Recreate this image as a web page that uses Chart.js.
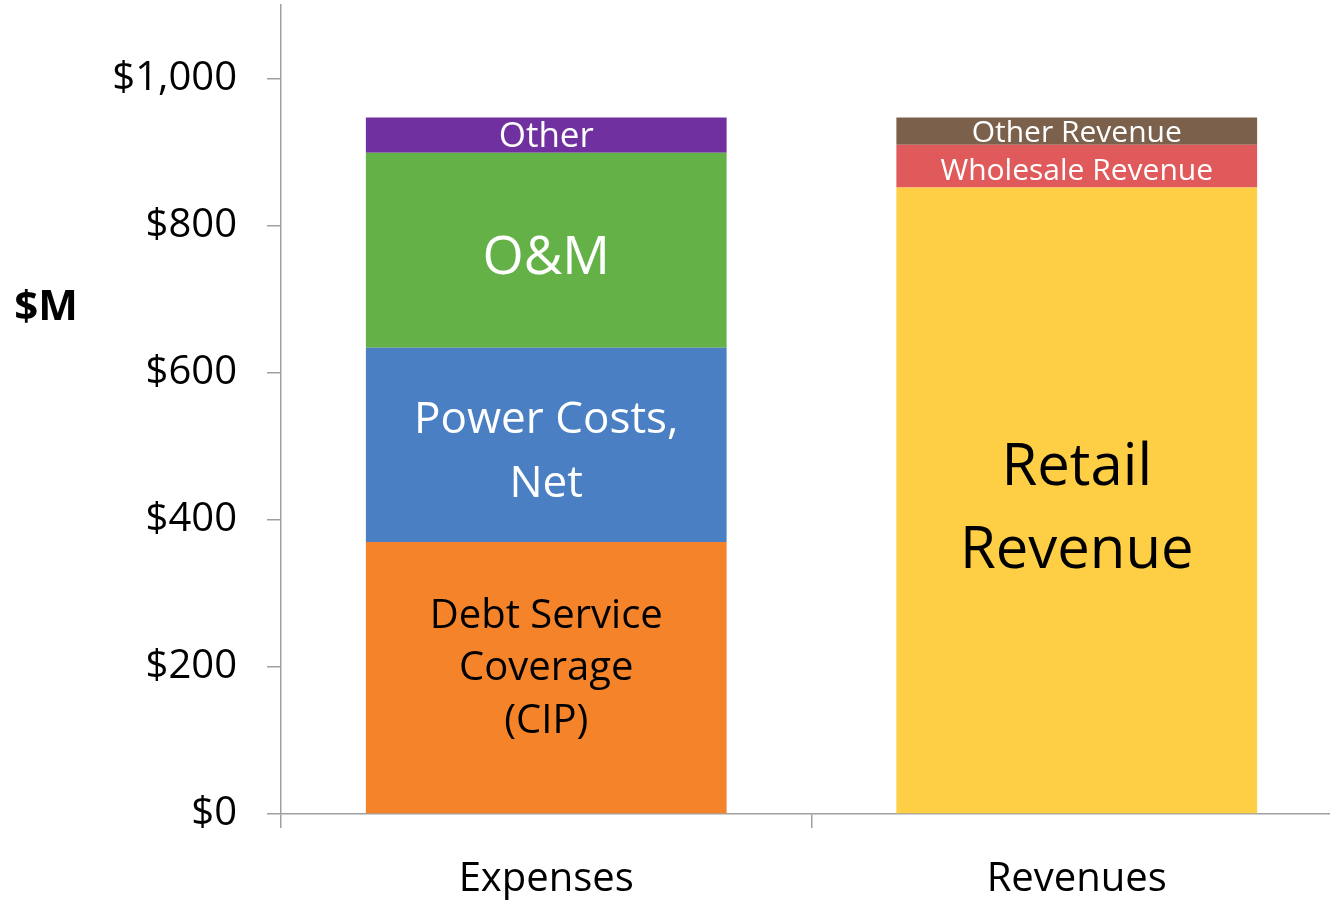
<!DOCTYPE html>
<html>
<head>
<meta charset="utf-8">
<script src="https://cdn.jsdelivr.net/npm/chart.js@4/dist/chart.umd.min.js"></script>
<style>
  html, body { margin: 0; padding: 0; background: #fff; overflow: hidden; }
  #wrap { width: 1345px; height: 900px; }
</style>
</head>
<body>
<div id="wrap"><canvas id="c" width="1345" height="900"></canvas></div>
<script>
// ---- data ----
const categories = ['Expenses', 'Revenues'];
const seriesNames = ['Debt Service Coverage (CIP)', 'Power Costs, Net', 'O&M', 'Other',
                     'Retail Revenue', 'Wholesale Revenue', 'Other Revenue'];
const debtService   = [370, null];
const powerCosts    = [264, null];
const oAndM         = [265, null];
const otherExpense  = [48, null];
const retailRevenue = [null, 852];
const wholesaleRev  = [null, 58];
const otherRevenue  = [null, 37];
const yTickValues   = [0, 200, 400, 600, 800, 1000];
const yAxisTitle    = '$M';
const segmentLabels = [
  ['Debt Service', 'Coverage', '(CIP)'],
  ['Power Costs,', 'Net'],
  ['O&M'],
  ['Other'],
  ['Retail', 'Revenue'],
  ['Wholesale Revenue'],
  ['Other Revenue']
];

// ---- styles ----
const FONT = "'Open Sans', 'Noto Sans', sans-serif";
const colors = ['#F4832A', '#4A80C3', '#64B147', '#7030A0', '#FECF44', '#E05A5B', '#7B614B'];
const labelStyles = [
  { size: 40, color: '#000', lh: 52.5, dy: -8.5 },
  { size: 44, color: '#fff', lh: 64, dy: 8 },
  { size: 53, color: '#fff', lh: 60, dy: 9 },
  { size: 35, color: '#fff', lh: 40, dy: 1.5 },
  { size: 58, color: '#000', lh: 83, dy: 10 },
  { size: 30, color: '#fff', lh: 36, dy: 5.5 },
  { size: 30, color: '#fff', lh: 36, dy: 2 }
];
const AXIS_COLOR = '#A0A0A0';

const seriesData = [debtService, powerCosts, oAndM, otherExpense, retailRevenue, wholesaleRev, otherRevenue];

const labelPlugin = {
  id: 'segLabels',
  afterDatasetsDraw(chart) {
    const ctx = chart.ctx;
    ctx.save();
    ctx.textAlign = 'center';
    ctx.textBaseline = 'middle';
    chart.data.datasets.forEach((ds, i) => {
      const meta = chart.getDatasetMeta(i);
      meta.data.forEach((el, j) => {
        if (ds.data[j] == null) return;
        const st = labelStyles[i];
        const lines = segmentLabels[i];
        const cy = (el.y + el.base) / 2 + st.dy;
        ctx.font = st.size + 'px ' + FONT;
        ctx.fillStyle = st.color;
        const n = lines.length;
        lines.forEach((t, k) => {
          ctx.fillText(t, el.x, cy + (k - (n - 1) / 2) * st.lh);
        });
      });
    });
    // axis title
    ctx.font = 'bold 42px ' + FONT;
    ctx.fillStyle = '#000';
    ctx.fillText(yAxisTitle, 46, 308);
    ctx.restore();
  }
};

new Chart(document.getElementById('c'), {
  type: 'bar',
  data: {
    labels: categories,
    datasets: seriesData.map((d, i) => ({
      label: seriesNames[i],
      data: d,
      backgroundColor: colors[i],
      borderWidth: 0,
      categoryPercentage: 1.0,
      barPercentage: 0.68
    }))
  },
  options: {
    responsive: false,
    animation: false,
    layout: { padding: { top: 5, right: 3, left: 0, bottom: 0 } },
    plugins: { legend: { display: false }, tooltip: { enabled: false } },
    scales: {
      x: {
        stacked: true,
        grid: { display: true, drawOnChartArea: false, offset: true, color: AXIS_COLOR, lineWidth: 1.5, tickLength: 14 },
        border: { display: true, color: AXIS_COLOR, width: 1.5 },
        ticks: { color: '#000', font: { family: FONT, size: 40 }, padding: 28, maxRotation: 0 },
        afterFit(s) { s.height = 86; s.paddingLeft = 0; s.paddingRight = 0; }
      },
      y: {
        stacked: true,
        min: 0,
        max: 1100,
        afterBuildTicks(s) { s.ticks = yTickValues.map(v => ({ value: v })); },
        grid: { display: true, drawOnChartArea: false, color: AXIS_COLOR, lineWidth: 1.5, tickLength: 14 },
        border: { display: true, color: AXIS_COLOR, width: 1.5 },
        ticks: {
          color: '#000',
          font: { family: FONT, size: 40 },
          padding: 30,
          callback: v => '$' + Number(v).toLocaleString('en-US')
        },
        afterFit(s) { s.width = 281; s.paddingTop = 0; s.paddingBottom = 0; }
      }
    }
  },
  plugins: [labelPlugin]
});
</script>
</body>
</html>
